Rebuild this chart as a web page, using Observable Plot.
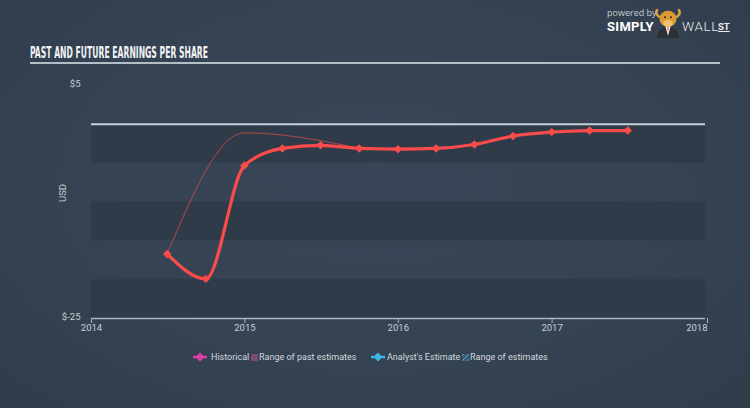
<!DOCTYPE html>
<html><head><meta charset="utf-8">
<script src="https://cdn.jsdelivr.net/npm/d3@7"></script>
<script src="https://cdn.jsdelivr.net/npm/@observablehq/plot@0.6"></script>
<style>
html,body{margin:0;padding:0;background:#354251;}
#wrap{position:relative;width:750px;height:408px;overflow:hidden;background:radial-gradient(ellipse at 50% 45%,#384657 0%,#354252 60%,#313c4b 100%);font-family:Roboto,"Open Sans",sans-serif;}
#title{position:absolute;left:30px;top:46px;line-height:15.5px;font-family:"Liberation Sans Narrow","DejaVu Sans Condensed",sans-serif;font-weight:bold;font-size:15.5px;color:#f1f3f5;white-space:nowrap;transform-origin:0 0;}
#rule{position:absolute;left:30px;top:62px;width:690px;height:2px;background:#b3bec7;}
#chart{position:absolute;left:0;top:70px;}
.lg{position:absolute;top:351px;font-size:9px;line-height:12px;color:#d3d8dd;white-space:nowrap;}
.ic{position:absolute;top:352px;}
.logo{position:absolute;white-space:nowrap;}
</style></head>
<body>
<div id="wrap">
  <div class="logo" style="left:607px;top:8px;font-size:9px;line-height:10px;color:#c3cad1;font-family:'Open Sans',sans-serif;">powered by</div>
  <div class="logo" style="left:607px;top:20px;font-size:13px;line-height:13px;font-weight:bold;color:#ffffff;letter-spacing:0.3px;font-family:Roboto,sans-serif;">SIMPLY</div>
  <svg class="logo" style="left:654px;top:6px" width="28" height="32" viewBox="0 0 26 30">
    <path d="M3 3 Q0 9 7 11" stroke="#d9a441" stroke-width="2.4" fill="none"/>
    <path d="M23 3 Q26 9 19 11" stroke="#d9a441" stroke-width="2.4" fill="none"/>
    <path d="M3 30 Q3 20 13 19 Q23 20 23 30 Z" fill="#2b2f36"/>
    <path d="M10.5 19 L13 28 L15.5 19 Z" fill="#ffffff"/>
    <path d="M12.3 20 L13 26 L13.7 20 Z" fill="#e0432f"/>
    <ellipse cx="13" cy="12" rx="8" ry="7.5" fill="#d99a34"/>
    <ellipse cx="13" cy="16.2" rx="4.5" ry="3" fill="#f0c070"/>
    <circle cx="10.2" cy="10.5" r="1" fill="#2b2f36"/>
    <circle cx="15.8" cy="10.5" r="1" fill="#2b2f36"/>
  </svg>
  <div class="logo" style="left:682px;top:20px;font-size:13.5px;line-height:13px;font-weight:300;color:#e9edf0;letter-spacing:0.6px;font-family:Roboto,sans-serif;">WALL</div>
  <div class="logo" style="left:718px;top:21px;font-size:9.5px;line-height:11px;font-weight:bold;color:#e9edf0;text-decoration:underline;font-family:Roboto,sans-serif;">ST</div>
  <div id="title">PAST AND FUTURE EARNINGS PER SHARE</div>
  <div id="rule"></div>
  <div id="chart"></div>
  <svg class="ic" style="left:193px" width="14" height="10"><line x1="0" y1="5" x2="14" y2="5" stroke="#de3fa8" stroke-width="2.5"/><path d="M7 0.5 L11.5 5 L7 9.5 L2.5 5 Z" fill="#de3fa8"/></svg>
  <div class="lg" style="left:211px">Historical</div>
  <svg class="ic" style="left:251px;top:354px" width="7" height="7"><rect width="7" height="7" fill="#7d4a70"/></svg>
  <div class="lg" style="left:259px">Range of past estimates</div>
  <svg class="ic" style="left:371px" width="14" height="10"><line x1="0" y1="5" x2="14" y2="5" stroke="#3db6e6" stroke-width="2.5"/><path d="M7 0.5 L11.5 5 L7 9.5 L2.5 5 Z" fill="#3db6e6"/></svg>
  <div class="lg" style="left:387px">Analyst's Estimate</div>
  <svg class="ic" style="left:462px;top:354px" width="7" height="7"><rect width="7" height="7" fill="#3a5a70"/><path d="M0 7 L7 0 M-2 4 L4 -2 M3 9 L9 3" stroke="#4fa0c8" stroke-width="1"/></svg>
  <div class="lg" style="left:470px">Range of estimates</div>
</div>
<script>
// quarter-end dates of reported EPS
const dates = ["2014-06-30","2014-09-30","2014-12-31","2015-03-31","2015-06-30","2015-09-30","2015-12-31","2016-03-31","2016-06-30","2016-09-30","2016-12-31","2017-03-31","2017-06-30"];
const eps = [-16.7,-19.9,-5.3,-3.1,-2.7,-3.1,-3.2,-3.1,-2.6,-1.5,-1.0,-0.8,-0.8];
// upper edge of range of past estimates
const rangeDates = ["2014-06-30","2014-12-31","2015-06-30","2015-09-30"];
const rangeHigh = [-16.7,-1.1,-2.1,-3.1];
// alternating background bands (USD)
const bandHi = [0,-10,-20];
const bandLo = [-5,-15,-25];
const yearTicks = ["2014-01-01","2015-01-01","2016-01-01","2017-01-01","2018-01-01"];
const yTicks = [5,-25];

const epsData = dates.map((d,i)=>({date:new Date(d), value:eps[i]}));
const rangeData = rangeDates.map((d,i)=>({date:new Date(d), value:rangeHigh[i]}));
const bands = bandHi.map((h,i)=>({hi:h, lo:bandLo[i]}));
const xt = yearTicks.map(d=>new Date(d));
const red = "#fb4b4b";
const axisCol = "#aab5bf";
const fmtY = d3.utcFormat("%Y");

const plot = Plot.plot({
  width:750, height:278,
  marginLeft:91, marginRight:45, marginTop:15, marginBottom:30,
  style:{background:"transparent", color:"#c9d0d7", fontFamily:"Roboto, sans-serif", fontSize:"9.5px", overflow:"visible"},
  x:{type:"utc", domain:[xt[0], xt[4]], label:null},
  y:{domain:[-25,5], label:null},
  marks:[
    Plot.rect(bands, {y1:"lo", y2:"hi", fill:"#303b4a"}),
    Plot.ruleY([0], {stroke:"#c6cfd7", strokeWidth:2}),
    Plot.line(rangeData, {x:"date", y:"value", curve:"monotone-x", stroke:red, strokeWidth:1, strokeOpacity:0.65}),
    Plot.line(epsData, {x:"date", y:"value", curve:"monotone-x", stroke:red, strokeWidth:3.2}),
    Plot.dot(epsData, {x:"date", y:"value", symbol:"diamond2", r:3.8, fill:red}),
    Plot.ruleY([-25], {stroke:axisCol, strokeWidth:1.5}),
    Plot.axisX(xt.slice(0,4), {tickFormat:fmtY, tickSize:5, tickPadding:1, stroke:axisCol, label:null}),
    Plot.axisX(xt.slice(4), {tickFormat:fmtY, tickSize:5, tickPadding:1, stroke:axisCol, textAnchor:"end", dx:2, label:null}),
    Plot.axisY(yTicks, {tickSize:0, tickPadding:11, tickFormat:d=>"$"+d, dy:-2, label:null}),
    Plot.text(["USD"], {frameAnchor:"left", dx:-29, rotate:-90, fill:"#c9d0d7", fontSize:9.5})
  ]
});
document.getElementById("chart").appendChild(plot);

const t = document.getElementById("title");
const w = t.getBoundingClientRect().width;
t.style.transform = "scaleX(" + (178/w) + ")";
</script>
</body></html>
